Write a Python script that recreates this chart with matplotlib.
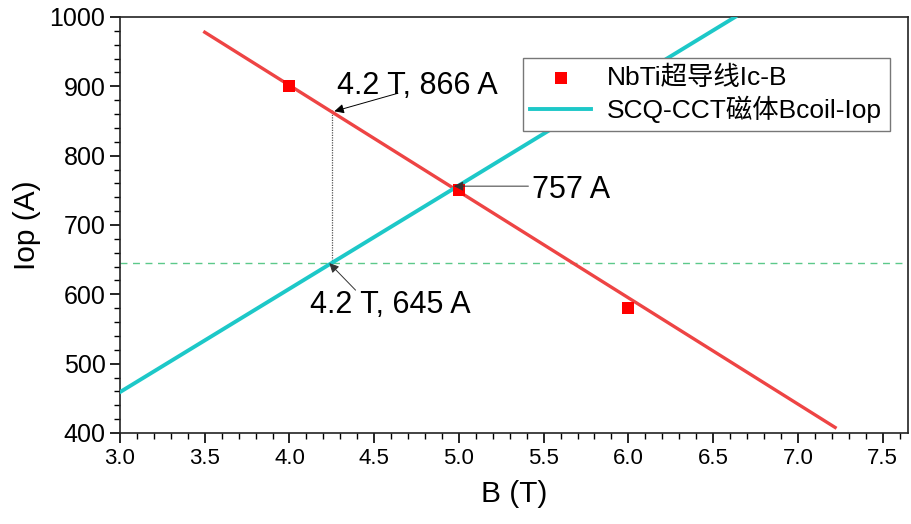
import matplotlib
matplotlib.use("Agg")
import matplotlib.pyplot as plt
from matplotlib.ticker import MultipleLocator

plt.rcParams['font.family'] = ['Liberation Sans', 'Noto Sans CJK SC', 'DejaVu Sans']

# Data
nbti_B = [4.0, 5.0, 6.0]
nbti_I = [900, 750, 580]
fit_B = [3.5, 7.22]
fit_I = [978, 408]
coil_B = [3.0, 6.63]
coil_I = [459, 1000]
op_I = 645
op_B = 4.25
op_I_top = 866
cross_B = 4.97
cross_I = 756
x_ticks = [3.0, 3.5, 4.0, 4.5, 5.0, 5.5, 6.0, 6.5, 7.0, 7.5]
x_ticklabels = ['3.0', '3.5', '4.0', '4.5', '5.0', '5.5', '6.0', '6.5', '7.0', '7.5']

fig = plt.figure(figsize=(9.12, 5.24), dpi=100)
ax = fig.add_axes([0.1316, 0.1737, 0.8640, 0.7939])

ax.plot(fit_B, fit_I, color='#EE4444', lw=2.4, zorder=3)
ax.plot(coil_B, coil_I, color='#1DC8C8', lw=2.8, zorder=3, label='SCQ-CCT磁体Bcoil-Iop')
ax.scatter(nbti_B, nbti_I, marker='s', s=75, color='#FF0000', zorder=4, label='NbTi超导线Ic-B', linewidths=0)
ax.axhline(op_I, color='#5CC98A', lw=1.0, ls=(0, (5, 4)), zorder=2)
ax.plot([op_B, op_B], [op_I, op_I_top], color='#555555', lw=0.9, ls=(0, (1, 1)), zorder=2)

arrow = dict(arrowstyle='-|>', color='black', lw=0.7, mutation_scale=14, shrinkA=0, shrinkB=0)
ax.annotate('', xy=(4.265, 864), xytext=(4.64, 890), arrowprops=arrow, zorder=5)
ax.text(4.28, 900, '4.2 T, 866 A', fontsize=22, ha='left', va='center')
ax.annotate('', xy=(cross_B, cross_I), xytext=(5.41, cross_I), arrowprops=dict(arrow, color='#333333'), zorder=5)
ax.text(5.43, 751, '757 A', fontsize=22, ha='left', va='center')
ax.annotate('', xy=(4.235, 645), xytext=(4.39, 606), arrowprops=dict(arrow, color='#333333'), zorder=5)
ax.text(4.12, 585, '4.2 T, 645 A', fontsize=22, ha='left', va='center')

ax.set_xlim(3.0, 7.65)
ax.set_ylim(400, 1000)
ax.xaxis.set_minor_locator(MultipleLocator(0.1))
ax.yaxis.set_major_locator(MultipleLocator(100))
ax.yaxis.set_minor_locator(MultipleLocator(20))
ax.set_xticks(x_ticks)
ax.set_xticklabels(x_ticklabels)
ax.tick_params(which='major', direction='out', length=7, width=1.2, top=False, right=False)
ax.tick_params(axis='x', which='major', labelsize=16)
ax.tick_params(axis='y', which='major', labelsize=18)
ax.tick_params(which='minor', direction='out', length=4, width=1.0, top=False, right=False)
for s in ax.spines.values():
    s.set_linewidth(1.2)
    s.set_color('#222222')

ax.set_xlabel('B (T)', fontsize=21.5, labelpad=8)
ax.set_ylabel('Iop (A)', fontsize=21.5, labelpad=6)

handles, labels = ax.get_legend_handles_labels()
leg = ax.legend(handles[::-1], labels[::-1], loc='upper right', bbox_to_anchor=(0.977, 0.901),
                fontsize=19, frameon=True, fancybox=False, edgecolor='#777777', framealpha=1.0,
                handlelength=2.3, borderpad=0.3, labelspacing=0.2, handletextpad=0.6, borderaxespad=0)
leg.get_frame().set_linewidth(1.0)

fig.savefig('out.png', dpi=100)
